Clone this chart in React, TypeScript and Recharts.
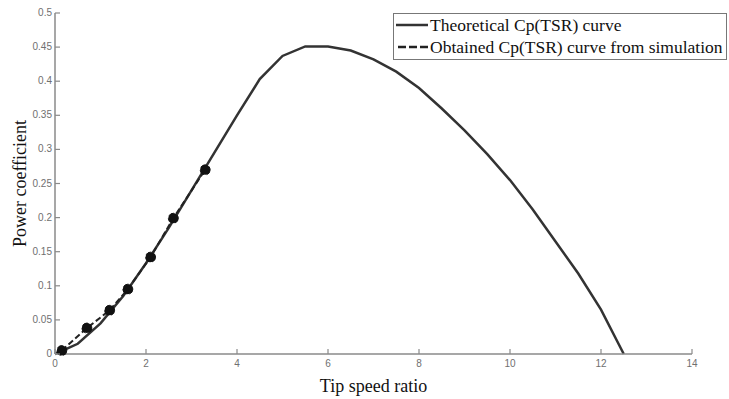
import { LineChart, Line, XAxis, YAxis, Legend, Label } from "recharts"

// theoretical Cp(TSR) curve
const tsrTheory = [0, 0.5, 1, 1.5, 2, 2.5, 3, 3.5, 4, 4.5, 5, 5.5, 6, 6.5, 7, 7.5, 8, 8.5, 9, 9.5, 10, 10.5, 11, 11.5, 12, 12.5]
const cpTheory = [0, 0.015, 0.045, 0.085, 0.133, 0.185, 0.24, 0.295, 0.35, 0.403, 0.437, 0.451, 0.451, 0.445, 0.432, 0.414, 0.39, 0.36, 0.328, 0.293, 0.255, 0.212, 0.165, 0.118, 0.065, 0]

// simulation points
const tsrSim = [0.15, 0.7, 1.2, 1.6, 2.1, 2.6, 3.3]
const cpSim = [0.005, 0.038, 0.064, 0.095, 0.142, 0.199, 0.27]

const xTicks = [0, 2, 4, 6, 8, 10, 12, 14]
const yTicks = [0, 0.05, 0.1, 0.15, 0.2, 0.25, 0.3, 0.35, 0.4, 0.45, 0.5]

const theory = tsrTheory.map((x, i) => ({ x, cp: cpTheory[i] }))
const simulation = tsrSim.map((x, i) => ({ x, cp: cpSim[i] }))

const AXIS = "#8a8a8a"
const TICK_TEXT = "#707070"
const TICK_FONT = "'Liberation Sans Narrow', 'Liberation Sans', Arial, sans-serif"
const SERIF = "'Liberation Serif', 'Times New Roman', serif"

const fmt = (v: number) => String(+v.toFixed(2))

// MATLAB style ticks: short marks pointing into the plot
const BottomTick = ({ x, y, payload }: any) => (
  <g>
    <line x1={x} y1={y} x2={x} y2={y - 5} stroke={AXIS} strokeWidth={1.2} />
    <text x={x} y={y + 13} textAnchor="middle" fontSize={10} fill={TICK_TEXT} fontFamily={TICK_FONT}>
      {fmt(payload.value)}
    </text>
  </g>
)

const LeftTick = ({ x, y, payload }: any) => (
  <g>
    <line x1={x} y1={y} x2={x + 5} y2={y} stroke={AXIS} strokeWidth={1.2} />
    <text x={x - 3} y={y + 3} textAnchor="end" fontSize={10} fill={TICK_TEXT} fontFamily={TICK_FONT}>
      {fmt(payload.value)}
    </text>
  </g>
)

const TopTick = ({ x, y }: any) => <line x1={x} y1={y} x2={x} y2={y + 5} stroke={AXIS} strokeWidth={1.2} />
const RightTick = ({ x, y }: any) => <line x1={x} y1={y} x2={x - 5} y2={y} stroke={AXIS} strokeWidth={1.2} />

const LegendBox = () => (
  <div
    style={{
      background: "#fff",
      border: "1px solid #777",
      fontFamily: SERIF,
      fontSize: 17.5,
      color: "#111",
      padding: "0px 3px 1px 2px",
      lineHeight: "22px",
      whiteSpace: "nowrap",
    }}
  >
    <div style={{ display: "flex", alignItems: "center" }}>
      <svg width={32} height={10} style={{ marginRight: 2 }}>
        <line x1={0} y1={5} x2={32} y2={5} stroke="#333" strokeWidth={2.5} />
      </svg>
      Theoretical Cp(TSR) curve
    </div>
    <div style={{ display: "flex", alignItems: "center" }}>
      <svg width={32} height={10} style={{ marginRight: 2 }}>
        <line x1={2} y1={5} x2={32} y2={5} stroke="#222" strokeWidth={2.5} strokeDasharray="8 3" />
      </svg>
      Obtained Cp(TSR) curve from simulation
    </div>
  </div>
)

export default function App() {
  return (
    <div style={{ position: "absolute", left: 0, top: 0, width: 729, height: 399, background: "#fff" }}>
      <LineChart width={729} height={399} margin={{ top: 13, right: 37, left: 0, bottom: 0 }}>
        <XAxis
          dataKey="x"
          type="number"
          domain={[0, 14]}
          ticks={xTicks}
          height={45}
          tickSize={0}
          tickMargin={0}
          tickLine={false}
          tick={<BottomTick />}
          axisLine={{ stroke: AXIS, strokeWidth: 1.5 }}
        >
          <Label
            value="Tip speed ratio"
            position="insideBottom"
            offset={7}
            style={{ fontFamily: SERIF, fontSize: 18, fill: "#111" }}
          />
        </XAxis>
        <XAxis
          xAxisId="top"
          orientation="top"
          type="number"
          domain={[0, 14]}
          ticks={xTicks}
          height={0}
          tickSize={0}
          tickMargin={0}
          tickLine={false}
          tick={<TopTick />}
          axisLine={{ stroke: AXIS, strokeWidth: 1.5 }}
        />
        <YAxis
          type="number"
          domain={[0, 0.5]}
          ticks={yTicks}
          width={55}
          tickSize={0}
          tickMargin={0}
          tickLine={false}
          tick={<LeftTick />}
          axisLine={{ stroke: AXIS, strokeWidth: 1.5 }}
        >
          <Label
            value="Power coefficient"
            angle={-90}
            position="insideLeft"
            offset={20}
            style={{ fontFamily: SERIF, fontSize: 18, fill: "#111", textAnchor: "middle" }}
          />
        </YAxis>
        <YAxis
          yAxisId="right"
          orientation="right"
          type="number"
          domain={[0, 0.5]}
          ticks={yTicks}
          width={0}
          tickSize={0}
          tickMargin={0}
          tickLine={false}
          tick={<RightTick />}
          axisLine={{ stroke: AXIS, strokeWidth: 1.5 }}
        />
        <Legend
          layout="vertical"
          verticalAlign="middle"
          align="center"
          wrapperStyle={{ top: 13, left: 393, width: "auto" }}
          content={<LegendBox />}
        />
        <Line
          data={theory}
          dataKey="cp"
          type="linear"
          stroke="#333"
          strokeWidth={2.5}
          dot={false}
          isAnimationActive={false}
        />
        <Line
          data={simulation}
          dataKey="cp"
          type="linear"
          stroke="#222"
          strokeWidth={2}
          strokeDasharray="6 3"
          dot={{ r: 5, fill: "#111", stroke: "#111", strokeWidth: 1 }}
          isAnimationActive={false}
        />
      </LineChart>
    </div>
  )
}
